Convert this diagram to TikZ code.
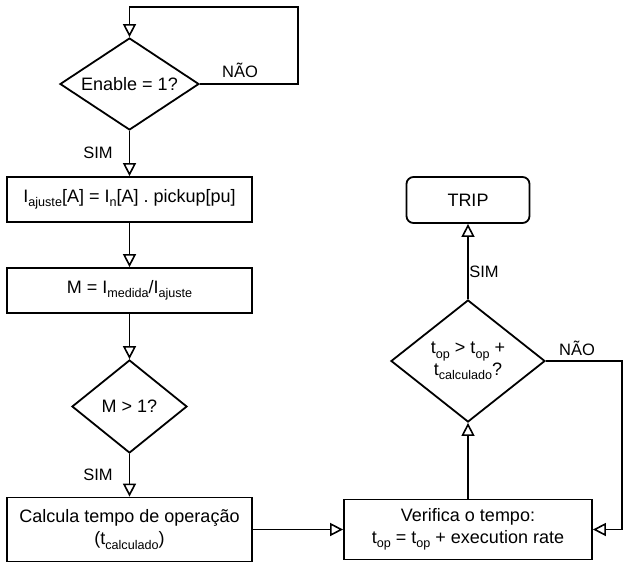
\documentclass[tikz,border=0pt]{standalone}
\usepackage{fontspec}
\setmainfont{Liberation Sans}
\usetikzlibrary{arrows.meta,shapes.geometric}
\newcommand{\sbs}[1]{\raisebox{-4.5pt}{\fontsize{12.6}{14}\selectfont #1}}
\begin{document}
\begin{tikzpicture}[x=1pt,y=-1pt,
  line width=1.8pt,
  every node/.style={font=\fontsize{18}{21.6}\selectfont},
  procbox/.style={draw,rectangle,inner sep=0pt,align=center,line width=1.8pt},
  decbox/.style={draw,diamond,inner sep=0pt,line width=1.8pt},
  lbl/.style={font=\fontsize{16.5}{19}\selectfont,inner sep=0pt},
  flow/.style={-{Triangle[length=13pt,width=13pt,fill=white,line width=1.6pt]},line width=1.8pt}]
\useasboundingbox (0,0) rectangle (627,563);
\node[decbox,minimum width=139pt,minimum height=92pt] (en) at (129.5,84) {};
\node at (en) {Enable = 1?};
\node[procbox,minimum width=245pt,minimum height=45pt] (b1) at (129.5,199.5) {I\sbs{ajuste}[A] = I\sbs{n}[A] . pickup[pu]};
\node[procbox,minimum width=245pt,minimum height=45pt] (b2) at (129.5,290.5) {M = I\sbs{medida}/I\sbs{ajuste}};
\node[decbox,minimum width=115pt,minimum height=93pt] (d2) at (129.5,406.5) {};
\node at (d2) {M > 1?};
\node[procbox,minimum width=245pt,minimum height=64pt] (b3) at (129.5,529.5) {Calcula tempo de operação\\(t\sbs{calculado})};
\node[procbox,minimum width=248pt,minimum height=60pt] (b4) at (468,529.5) {Verifica o tempo:\\t\sbs{op} = t\sbs{op} + execution rate};
\node[decbox,minimum width=154pt,minimum height=122pt] (d3) at (468,361) {};
\node[align=center,inner sep=0pt] at (d3) {t\sbs{op} > t\sbs{op} +\\t\sbs{calculado}?};
\node[procbox,rounded corners=7pt,minimum width=123pt,minimum height=46pt] (trip) at (468,200) {TRIP};
\coordinate (c1) at (298,7);
\coordinate (c2) at (622,361);
\draw[flow] (en.east) -| (c1) -| (en.north);
\draw[flow] (en.south) -- (b1.north);
\draw[flow] (b1.south) -- (b2.north);
\draw[flow] (b2.south) -- (d2.north);
\draw[flow] (d2.south) -- (b3.north);
\draw[flow] (b3.east) -- (b4.west);
\draw[flow] (b4.north) -- (d3.south);
\draw[flow] (d3.north) -- (trip.south);
\draw[flow] (d3.east) -- (c2) |- (b4.east);
\node[lbl] (l1) at (240,70) {NÃO};
\node[lbl] (l2) at (98,153) {SIM};
\node[lbl] (l3) at (98,475) {SIM};
\node[lbl] (l4) at (484,272) {SIM};
\node[lbl] (l5) at (577,348) {NÃO};
\end{tikzpicture}
\end{document}
